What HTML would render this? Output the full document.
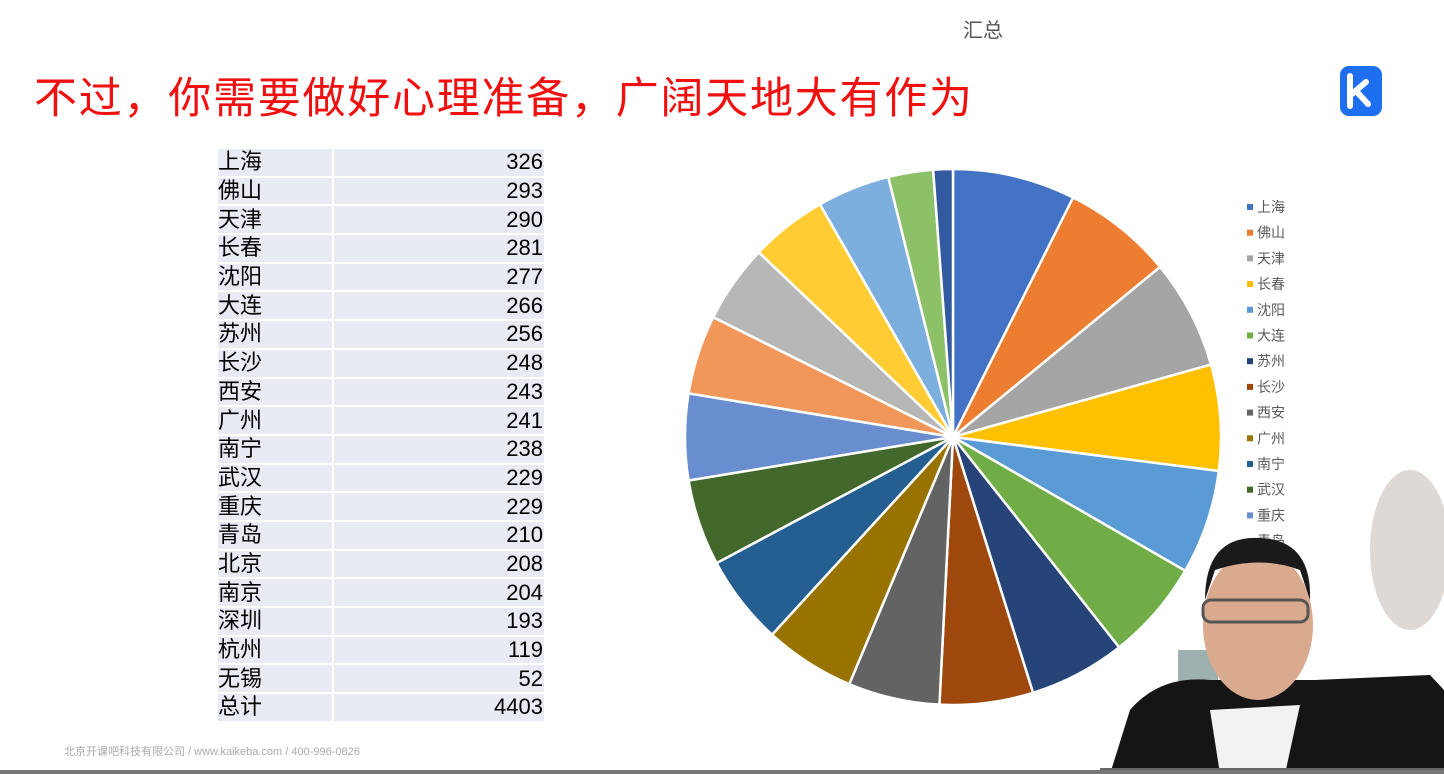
<!DOCTYPE html>
<html><head><meta charset="utf-8"><style>
body{margin:0;width:1444px;height:774px;background:#fff;overflow:hidden;position:relative;font-family:"Liberation Sans","Noto Sans CJK SC",sans-serif}
.abs{position:absolute}
#tbl{position:absolute;left:218px;top:149px;width:326px;border-collapse:collapse}
#tbl td{height:26.7px;padding:0;border-bottom:2px solid #fff;background:#E9EBF4;font-size:22px;line-height:26px;color:#000}
#tbl td.n{text-align:right;padding-right:1px;border-left:2px solid #fff}
</style></head><body>
<div class="abs" style="left:963px;top:14px;font-size:20px;color:#555">汇总</div>
<div class="abs" style="left:34px;top:64px;font-size:43px;color:#F01010;letter-spacing:1.75px">不过，你需要做好心理准备，广阔天地大有作为</div>
<svg class="abs" style="left:1338px;top:64px" width="46" height="54"><rect x="2" y="2" width="42" height="50" rx="9" fill="#1E6FF0"/><path d="M12 12v30M14 30l14-12M18 27l12 13" stroke="#fff" stroke-width="6" fill="none" stroke-linecap="round"/></svg>
<table id="tbl"><tbody id="tb"></tbody></table>
<svg id="pie" class="abs" style="left:0;top:0" width="1444" height="774"></svg>
<div class="abs" style="left:64px;top:743px;font-size:11px;color:#aaa">北京开课吧科技有限公司 / www.kaikeba.com / 400-996-0826</div>
<svg class="abs" style="left:1100px;top:450px" width="344" height="324">
<ellipse cx="310" cy="100" rx="40" ry="80" fill="#c8c0b8" opacity="0.6"/>
<rect x="78" y="200" width="40" height="80" fill="#9fb0b0"/>
<path d="M10 324 L30 260 Q60 225 110 230 L215 230 L330 225 L344 240 L344 324Z" fill="#151515"/>
<path d="M110 260 L200 255 L185 324 L120 324Z" fill="#f2f2f2"/>
<ellipse cx="158" cy="175" rx="55" ry="75" fill="#d9aa8e"/>
<path d="M105 150 Q105 85 160 88 Q212 90 210 150 L200 120 Q160 105 115 120Z" fill="#1a1a1a"/>
<rect x="103" y="150" width="105" height="22" rx="8" fill="none" stroke="#555" stroke-width="3"/>
<rect x="0" y="318" width="344" height="6" fill="#666"/>
</svg>
<div class="abs" style="left:0;top:770px;width:1444px;height:4px;background:#777"></div>
<script>
const cities=["上海","佛山","天津","长春","沈阳","大连","苏州","长沙","西安","广州","南宁","武汉","重庆","青岛","北京","南京","深圳","杭州","无锡"];
const values=[326,293,290,281,277,266,256,248,243,241,238,229,229,210,208,204,193,119,52];
const totalLabel="总计";
const colors=["#4472C4","#ED7D31","#A5A5A5","#FFC000","#5B9BD5","#70AD47","#264478","#9E480E","#636363","#997300","#255E91","#43682B","#698ED0","#F1975A","#B7B7B7","#FFCD33","#7CAFDD","#8CC168","#335AA1"];
const tb=document.getElementById('tb');
const total=values.reduce((a,b)=>a+b,0);
cities.concat([totalLabel]).forEach((c,i)=>{
 const tr=document.createElement('tr');
 
 
 const v=i<values.length?values[i]:total;
 tr.innerHTML='<td style="width:114px">'+c+'</td><td class="n">'+v+'</td>';
 tb.appendChild(tr);
});
const svg=document.getElementById('pie');const NS='http://www.w3.org/2000/svg';
const cx=953,cy=437,r=268;
let a0=0;
values.forEach((v,i)=>{
 const a1=a0+v/total*2*Math.PI;
 const x0=cx+r*Math.sin(a0),y0=cy-r*Math.cos(a0),x1=cx+r*Math.sin(a1),y1=cy-r*Math.cos(a1);
 const p=document.createElementNS(NS,'path');
 p.setAttribute('d',`M${cx},${cy}L${x0},${y0}A${r},${r} 0 ${a1-a0>Math.PI?1:0} 1 ${x1},${y1}Z`);
 p.setAttribute('fill',colors[i]);p.setAttribute('stroke','#fff');p.setAttribute('stroke-width','2.5');
 
 
 svg.appendChild(p);a0=a1;
});
for(let i=0;i<14;i++){
 const y=207+i*25.7;
 const g=document.createElementNS(NS,'g');
 
 
 g.innerHTML=`<rect x="1247" y="${y-3}" width="6" height="6" fill="${colors[i]}"/><text x="1257" y="${y+5}" font-size="14" fill="#595959" font-family="Liberation Sans,Noto Sans CJK SC,sans-serif">${cities[i]}</text>`;
 svg.appendChild(g);
}
</script>
</body></html>
